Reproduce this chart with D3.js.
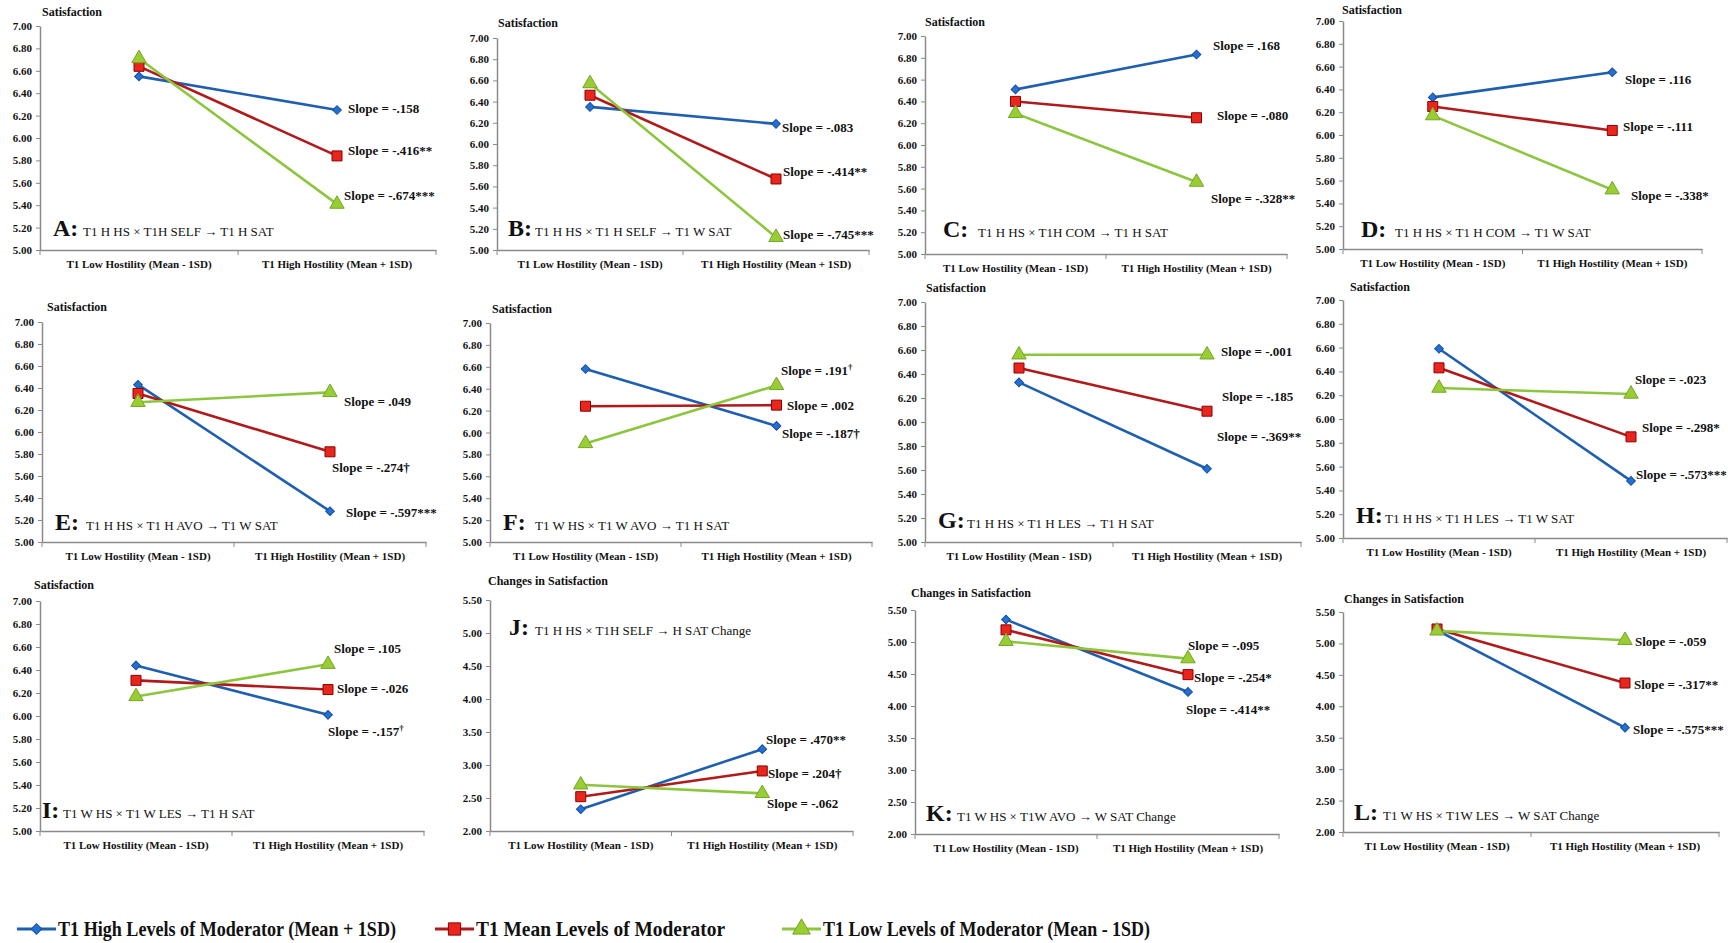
<!DOCTYPE html>
<html>
<head>
<meta charset="utf-8">
<script src="https://cdn.jsdelivr.net/npm/d3@7"></script>
<style>
  body { margin: 0; background: #fff; }
  text { font-family: 'Liberation Serif', 'Times New Roman', 'DejaVu Serif', serif; fill: #111; }
</style>
</head>
<body>
<svg id="chart" width="1728" height="943"></svg>
<script>
// Categories on every x axis
const categories = ['T1 Low Hostility (Mean - 1SD)', 'T1 High Hostility (Mean + 1SD)'];

const panelIds = ['A', 'B', 'C', 'D', 'E', 'F', 'G', 'H', 'I', 'J', 'K', 'L'];
const panelModels = [
  'T1 H HS × T1H SELF → T1 H SAT',
  'T1 H HS × T1 H SELF → T1 W SAT',
  'T1 H HS × T1H COM → T1 H SAT',
  'T1 H HS × T1 H COM → T1 W SAT',
  'T1 H HS × T1 H AVO → T1 W SAT',
  'T1 W HS × T1 W AVO → T1 H SAT',
  'T1 H HS × T1 H LES → T1 H SAT',
  'T1 H HS × T1 H LES → T1 W SAT',
  'T1 W HS × T1 W LES → T1 H SAT',
  'T1 H HS × T1H SELF → H SAT Change',
  'T1 W HS × T1W AVO → W SAT Change',
  'T1 W HS × T1W LES → W SAT Change'
];
const yTitles = ['Satisfaction', 'Satisfaction', 'Satisfaction', 'Satisfaction', 'Satisfaction', 'Satisfaction',
  'Satisfaction', 'Satisfaction', 'Satisfaction', 'Changes in Satisfaction', 'Changes in Satisfaction', 'Changes in Satisfaction'];
const yDomains = [[5, 7], [5, 7], [5, 7], [5, 7], [5, 7], [5, 7], [5, 7], [5, 7], [5, 7], [2, 5.5], [2, 5.5], [2, 5.5]];
const yTickSteps = [0.2, 0.2, 0.2, 0.2, 0.2, 0.2, 0.2, 0.2, 0.2, 0.5, 0.5, 0.5];

// Series values [low hostility, high hostility] per panel
const highModerator = [[6.55, 6.25], [6.35, 6.19], [6.51, 6.83], [6.33, 6.55], [6.43, 5.28], [6.58, 6.06],
  [6.33, 5.61], [6.59, 5.48], [6.44, 6.01], [2.33, 3.24], [5.35, 4.22], [5.21, 3.66]];
const meanModerator = [[6.64, 5.84], [6.46, 5.67], [6.40, 6.25], [6.25, 6.04], [6.35, 5.82], [6.24, 6.25],
  [6.45, 6.09], [6.43, 5.85], [6.31, 6.23], [2.52, 2.91], [5.19, 4.49], [5.23, 4.37]];
const lowModerator = [[6.71, 5.41], [6.57, 5.12], [6.29, 5.66], [6.17, 5.52], [6.27, 6.36], [5.90, 6.43],
  [6.56, 6.56], [6.26, 6.21], [6.17, 6.45], [2.70, 2.57], [5.01, 4.74], [5.20, 5.05]];

// Simple slope annotations ('^' marks a superscript part)
const highSlopes = ['-.158', '-.083', '.168', '.116', '-.597***', '-.187†', '-.369**', '-.573***', '-.157^†', '.470**', '-.414**', '-.575***'];
const meanSlopes = ['-.416**', '-.414**', '-.080', '-.111', '-.274†', '.002', '-.185', '-.298*', '-.026', '.204†', '-.254*', '-.317**'];
const lowSlopes = ['-.674***', '-.745***', '-.328**', '-.338*', '.049', '.191^†', '-.001', '-.023', '.105', '-.062', '-.095', '-.059'];

const legendLabels = ['T1 High Levels of Moderator (Mean + 1SD)', 'T1 Mean Levels of Moderator', 'T1 Low Levels of Moderator (Mean - 1SD)'];

// Where each small chart sits on the page
const panelFrames = [
  { left: 40, right: 436, top: 26, bottom: 250, titleX: 42, titleY: 16, letterX: 53, letterY: 236, modelX: 83, slopePos: [[348, 108], [348, 150], [344, 195]] },
  { left: 497, right: 869, top: 38, bottom: 250, titleX: 498, titleY: 27, letterX: 508, letterY: 236, modelX: 535, slopePos: [[782, 127], [783, 171], [783, 234]] },
  { left: 925, right: 1287, top: 36, bottom: 254, titleX: 925, titleY: 26, letterX: 943, letterY: 237, modelX: 978, slopePos: [[1213, 45], [1217, 115], [1211, 198]] },
  { left: 1343, right: 1702, top: 21, bottom: 249, titleX: 1342, titleY: 14, letterX: 1361, letterY: 237, modelX: 1395, slopePos: [[1625, 79], [1623, 126], [1631, 195]] },
  { left: 42, right: 426, top: 322, bottom: 542, titleX: 47, titleY: 311, letterX: 55, letterY: 530, modelX: 86, slopePos: [[346, 512], [332, 467], [344, 401]] },
  { left: 490, right: 872, top: 323, bottom: 542, titleX: 492, titleY: 313, letterX: 503, letterY: 530, modelX: 535, slopePos: [[782, 433], [787, 405], [781, 370]] },
  { left: 925, right: 1301, top: 302, bottom: 542, titleX: 926, titleY: 292, letterX: 938, letterY: 528, modelX: 967, slopePos: [[1217, 436], [1222, 396], [1221, 351]] },
  { left: 1343, right: 1727, top: 300, bottom: 538, titleX: 1350, titleY: 291, letterX: 1356, letterY: 523, modelX: 1385, slopePos: [[1636, 474], [1642, 427], [1635, 379]] },
  { left: 40, right: 424, top: 601, bottom: 831, titleX: 34, titleY: 589, letterX: 42, letterY: 818, modelX: 63, slopePos: [[328, 731], [337, 688], [334, 648]] },
  { left: 490, right: 853, top: 600, bottom: 831, titleX: 488, titleY: 585, letterX: 509, letterY: 635, modelX: 535, slopePos: [[766, 739], [768, 773], [767, 803]] },
  { left: 915, right: 1279, top: 610, bottom: 834, titleX: 911, titleY: 597, letterX: 926, letterY: 821, modelX: 957, slopePos: [[1186, 709], [1194, 677], [1188, 645]] },
  { left: 1343, right: 1719, top: 612, bottom: 832, titleX: 1344, titleY: 603, letterX: 1354, letterY: 820, modelX: 1383, slopePos: [[1633, 729], [1634, 684], [1635, 641]] }
];

// Excel style markers: a diamond is a square turned 45 degrees
const seriesStyles = [
  { line: '#1f5fb0', fill: '#2170d8', stroke: '#1a4f9a', symbol: d3.symbolSquare, size: 38, rotate: 45 },
  { line: '#b01a1a', fill: '#e8261e', stroke: '#8e0000', symbol: d3.symbolSquare, size: 100, rotate: 0 },
  { line: '#8cc63f', fill: '#9acd32', stroke: '#74a52a', symbol: d3.symbolTriangle, size: 90, rotate: 0 }
];

const axisColor = '#8a8a8a';
const svg = d3.select('#chart');

function writeSlope(sel, label) {
  const parts = ('Slope = ' + label).split('^');
  sel.text(parts[0]);
  if (parts.length > 1) {
    sel.append('tspan')
      .attr('baseline-shift', 'super')
      .attr('font-size', '9px')
      .text(parts[1]);
  }
}

panelIds.forEach(function (id, i) {
  const f = panelFrames[i];
  const g = svg.append('g').attr('class', 'panel panel-' + id);

  const x = d3.scaleBand()
    .domain(categories)
    .range([f.left, f.right]);
  const y = d3.scaleLinear()
    .domain(yDomains[i])
    .range([f.bottom, f.top]);
  const ticks = d3.range(yDomains[i][0], yDomains[i][1] + 1e-9, yTickSteps[i]);

  // Y axis
  const yAxis = g.append('g')
    .attr('transform', `translate(${f.left},0)`)
    .call(d3.axisLeft(y).tickValues(ticks).tickFormat(d3.format('.2f')).tickSize(4).tickSizeOuter(0).tickPadding(4));
  yAxis.select('.domain').attr('stroke', axisColor).attr('stroke-width', 1.5);
  yAxis.selectAll('.tick line').attr('stroke', axisColor);
  yAxis.selectAll('.tick text')
    .attr('font-size', '11px')
    .attr('font-weight', 'bold')
    .attr('fill', '#222');

  // X axis, with ticks on the band edges
  const xAxis = g.append('g')
    .attr('transform', `translate(0,${f.bottom})`)
    .call(d3.axisBottom(x).tickSize(0).tickSizeOuter(0).tickPadding(10));
  xAxis.select('.domain').attr('stroke', axisColor).attr('stroke-width', 1.5);
  xAxis.selectAll('.tick text')
    .attr('font-size', '11px')
    .attr('font-weight', 'bold')
    .attr('fill', '#222');
  const edges = [x.range()[0], x(categories[1]), x.range()[1]];
  xAxis.selectAll('line.edge')
    .data(edges)
    .enter().append('line')
    .attr('class', 'edge')
    .attr('x1', d => d).attr('x2', d => d)
    .attr('y1', 0).attr('y2', 5)
    .attr('stroke', axisColor);

  // Axis title
  g.append('text')
    .attr('x', f.titleX)
    .attr('y', f.titleY)
    .attr('font-size', '12px')
    .attr('font-weight', 'bold')
    .text(yTitles[i]);

  // Panel letter and model
  const caption = g.append('text')
    .attr('x', f.letterX)
    .attr('y', f.letterY);
  caption.append('tspan')
    .attr('font-size', '24px')
    .attr('font-weight', 'bold')
    .text(id + ':');
  caption.append('tspan')
    .attr('x', f.modelX)
    .attr('font-size', '13px')
    .text(panelModels[i]);

  const cx = (c) => x(c) + x.bandwidth() / 2;
  const line = d3.line()
    .x((d, j) => cx(categories[j]))
    .y(d => y(d));

  const allSeries = [highModerator[i], meanModerator[i], lowModerator[i]];
  const allSlopes = [highSlopes[i], meanSlopes[i], lowSlopes[i]];

  allSeries.forEach(function (vals, s) {
    const st = seriesStyles[s];
    g.append('path')
      .datum(vals)
      .attr('d', line)
      .attr('fill', 'none')
      .attr('stroke', st.line)
      .attr('stroke-width', 2.6);
  });

  allSeries.forEach(function (vals, s) {
    const st = seriesStyles[s];
    g.selectAll('path.marker-' + s)
      .data(vals)
      .enter().append('path')
      .attr('class', 'marker-' + s)
      .attr('d', d3.symbol().type(st.symbol).size(st.size))
      .attr('transform', (d, j) => `translate(${cx(categories[j])},${y(d)}) rotate(${st.rotate})`)
      .attr('fill', st.fill)
      .attr('stroke', st.stroke)
      .attr('stroke-width', 1);

    g.append('text')
      .attr('x', f.slopePos[s][0])
      .attr('y', f.slopePos[s][1])
      .attr('dy', '0.35em')
      .attr('font-size', '13px')
      .attr('font-weight', 'bold')
      .call(writeSlope, allSlopes[s]);
  });
});

// Legend along the bottom
const legendX = [17, 435, 782];
const legendTextLen = [338, 249, 327];
const legendY = 929;

legendLabels.forEach(function (label, s) {
  const st = seriesStyles[s];
  const lg = svg.append('g').attr('class', 'legend-item');
  lg.append('line')
    .attr('x1', legendX[s]).attr('x2', legendX[s] + 39)
    .attr('y1', legendY).attr('y2', legendY)
    .attr('stroke', st.line)
    .attr('stroke-width', 3);
  lg.append('path')
    .attr('d', d3.symbol().type(st.symbol).size(st.size * 1.5))
    .attr('transform', `translate(${legendX[s] + 19.5},${legendY}) rotate(${st.rotate})`)
    .attr('fill', st.fill)
    .attr('stroke', st.stroke);
  lg.append('text')
    .attr('x', legendX[s] + 41)
    .attr('y', legendY)
    .attr('dy', '0.35em')
    .attr('font-size', '21px')
    .attr('font-weight', 'bold')
    .attr('textLength', legendTextLen[s])
    .attr('lengthAdjust', 'spacingAndGlyphs')
    .text(label);
});
</script>
</body>
</html>
